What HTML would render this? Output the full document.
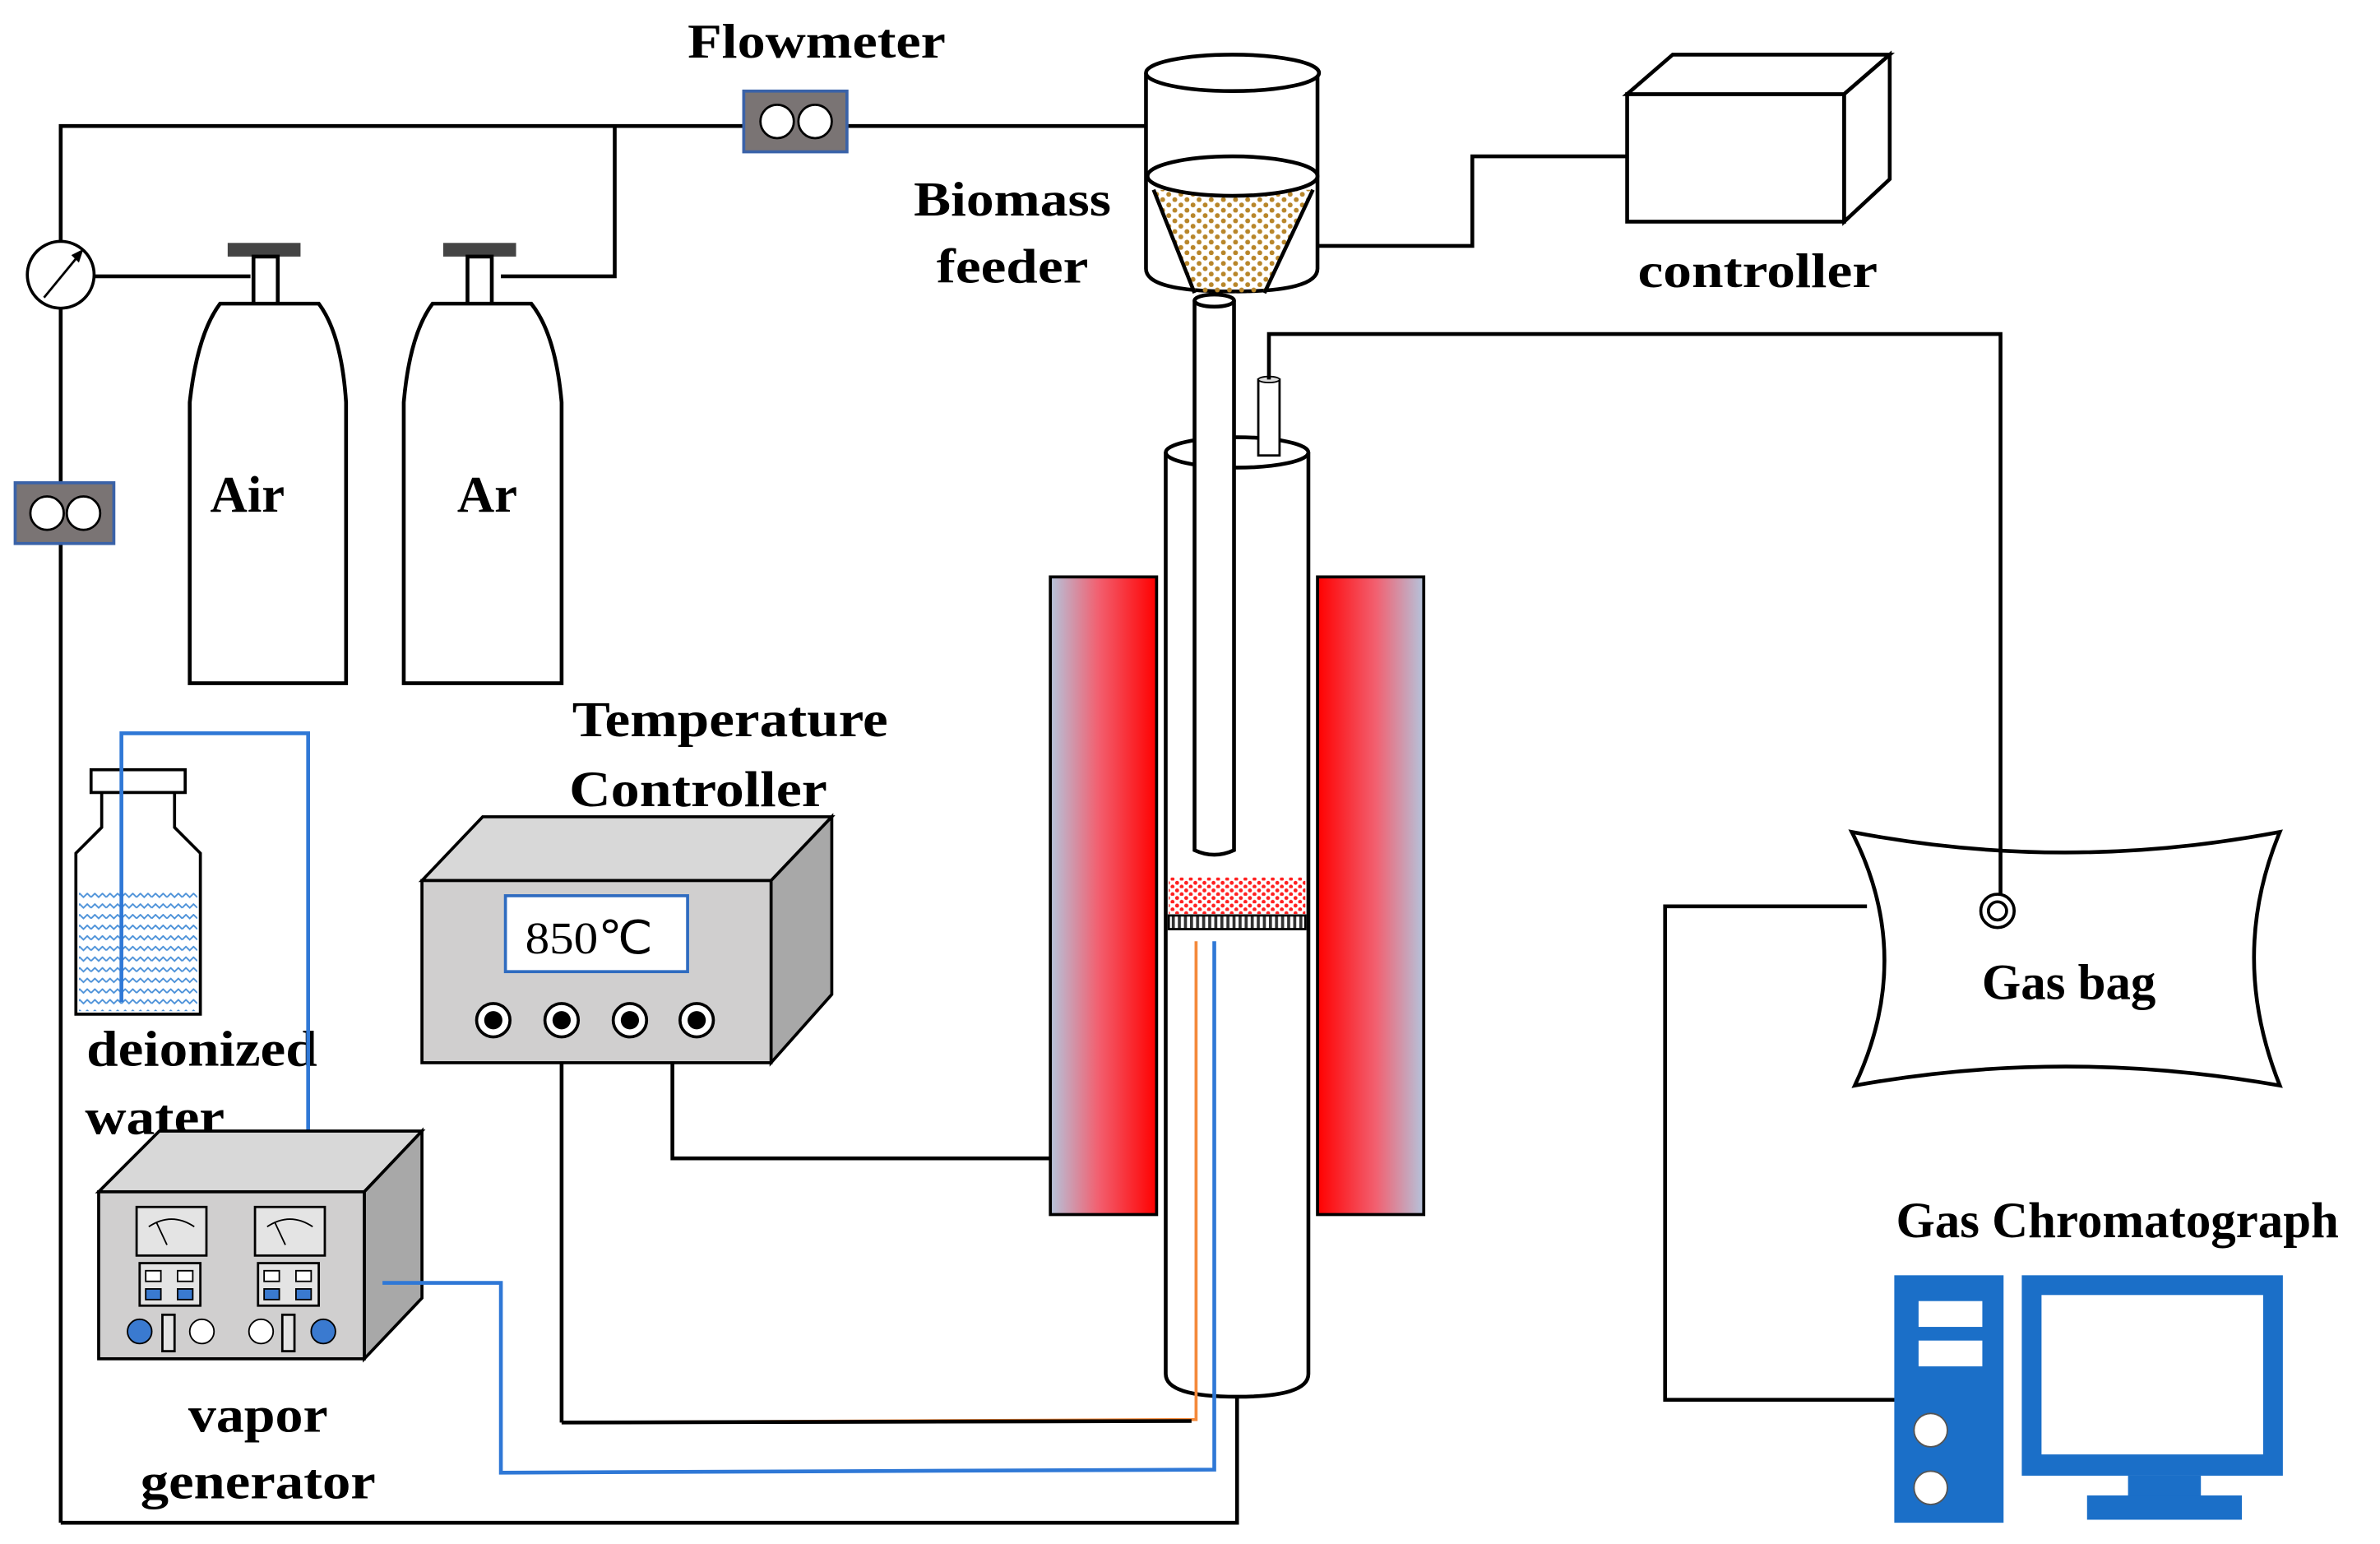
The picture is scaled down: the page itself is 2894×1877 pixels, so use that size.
<!DOCTYPE html>
<html><head><meta charset="utf-8"><style>
html,body{margin:0;padding:0;background:#fff;}
svg{display:block;}
text{font-family:"Liberation Serif",serif;font-weight:bold;fill:#000;}
</style></head><body>
<svg width="2894" height="1877" viewBox="0 0 1568 1017" preserveAspectRatio="none" xmlns="http://www.w3.org/2000/svg">
<defs>
<linearGradient id="hl" x1="0" x2="1" y1="0" y2="0"><stop offset="0" stop-color="#b4c4dc"/><stop offset="0.45" stop-color="#f26070"/><stop offset="1" stop-color="#ff0000"/></linearGradient>
<linearGradient id="hr" x1="0" x2="1" y1="0" y2="0"><stop offset="0" stop-color="#ff0000"/><stop offset="0.55" stop-color="#f26070"/><stop offset="1" stop-color="#b4c4dc"/></linearGradient>
<pattern id="bio" width="8" height="7" patternUnits="userSpaceOnUse"><circle cx="2" cy="2" r="1.6" fill="#b8862a"/><circle cx="6" cy="5.5" r="1.6" fill="#b8862a"/></pattern>
<pattern id="red" width="6" height="5" patternUnits="userSpaceOnUse"><circle cx="1.5" cy="1.5" r="1.3" fill="#ff2020"/><circle cx="4.5" cy="4" r="1.3" fill="#ff2020"/></pattern>
<pattern id="wave" width="10" height="7" patternUnits="userSpaceOnUse"><path d="M0 3 L2.5 0.5 L5 3 L7.5 0.5 L10 3" fill="none" stroke="#4a90d8" stroke-width="1"/></pattern>
<pattern id="mesh" width="4" height="10" patternUnits="userSpaceOnUse"><rect width="2" height="10" fill="#333"/></pattern>
</defs>
<g fill="none" stroke="#000" stroke-width="2.5">
<polyline points="40,1003 40,83 755,83"/>
<polyline points="405,83 405,182 330,182"/>
<line x1="62" y1="182" x2="165" y2="182"/>
<polyline points="815,920 815,1003 40,1003"/>
</g>
<circle cx="40" cy="181" r="22" fill="#fff" stroke="#000" stroke-width="2"/>
<line x1="29" y1="196" x2="52" y2="168" stroke="#000" stroke-width="1.5"/>
<polygon points="55,164 47,168 52,173" fill="#000"/>
<rect x="490" y="60" width="68" height="40" fill="#7a7474" stroke="#3a62a8" stroke-width="2"/>
<circle cx="512" cy="80" r="11" fill="#fff" stroke="#000" stroke-width="1.5"/><circle cx="537" cy="80" r="11" fill="#fff" stroke="#000" stroke-width="1.5"/>
<rect x="10" y="318" width="65" height="40" fill="#7a7474" stroke="#3a62a8" stroke-width="2"/>
<circle cx="31" cy="338" r="11" fill="#fff" stroke="#000" stroke-width="1.5"/><circle cx="55" cy="338" r="11" fill="#fff" stroke="#000" stroke-width="1.5"/>
<g stroke="#000" stroke-width="2.5" fill="#fff">
<rect x="150" y="160" width="48" height="9" fill="#444" stroke="none"/>
<rect x="167" y="169" width="16" height="32"/>
<path d="M125,450 L125,265 Q130,220 145,200 L210,200 Q225,220 228,265 L228,450 Z"/>
<rect x="292" y="160" width="48" height="9" fill="#444" stroke="none"/>
<rect x="308" y="169" width="16" height="32"/>
<path d="M266,450 L266,265 Q270,220 285,200 L350,200 Q366,220 370,265 L370,450 Z"/>
</g>
<text x="163" y="337" font-size="34" text-anchor="middle">Air</text>
<text x="321" y="337" font-size="34" text-anchor="middle">Ar</text>
<text x="538" y="38" font-size="32" text-anchor="middle" textLength="170" lengthAdjust="spacingAndGlyphs">Flowmeter</text>
<text x="667" y="142" font-size="32" text-anchor="middle" textLength="130" lengthAdjust="spacingAndGlyphs">Biomass</text>
<text x="667" y="186" font-size="32" text-anchor="middle" textLength="100" lengthAdjust="spacingAndGlyphs">feeder</text>
<text x="1158" y="189" font-size="32" text-anchor="middle" textLength="158" lengthAdjust="spacingAndGlyphs">controller</text>
<g stroke="#000" stroke-width="2.5" fill="#fff">
<path d="M755,48 L755,177 Q755,192 812,192 Q868,192 868,177 L868,48"/>
<ellipse cx="812" cy="48" rx="57" ry="12"/>
<path d="M760,125 L787,193 L833,193 L865,125 Z" fill="url(#bio)" stroke="none"/>
<line x1="760" y1="125" x2="787" y2="193"/><line x1="865" y1="125" x2="833" y2="193"/>
<ellipse cx="812" cy="116" rx="56" ry="13"/>
</g>
<g stroke="#000" stroke-width="2.5" fill="#fff">
<rect x="1072" y="62" width="143" height="84"/>
<polygon points="1072,62 1102,36 1245,36 1215,62"/>
<polygon points="1215,62 1245,36 1245,118 1215,146"/>
</g>
<polyline points="868,162 970,162 970,103 1072,103" fill="none" stroke="#000" stroke-width="2.5"/>
<g stroke="#000" stroke-width="2.5" fill="#fff">
<path d="M768,298 L768,905 Q768,920 815,920 Q862,920 862,905 L862,298"/>
<ellipse cx="815" cy="298" rx="47" ry="10"/>
</g>
<rect x="770" y="578" width="90" height="24" fill="url(#red)"/>
<rect x="770" y="603" width="90" height="9" fill="url(#mesh)" stroke="#000" stroke-width="1.5"/>
<g stroke="#000" stroke-width="2.5" fill="#fff">
<path d="M787,198 L787,560 Q800,566 813,560 L813,198"/>
<ellipse cx="800" cy="198" rx="13" ry="4"/>
</g>
<rect x="829" y="250" width="14" height="50" fill="#fff" stroke="#000" stroke-width="1.5"/>
<ellipse cx="836" cy="250" rx="7" ry="2" fill="#ddd" stroke="#000" stroke-width="1"/>
<rect x="692" y="380" width="70" height="420" fill="url(#hl)" stroke="#000" stroke-width="2"/>
<rect x="868" y="380" width="70" height="420" fill="url(#hr)" stroke="#000" stroke-width="2"/>
<polyline points="788,620 788,935 370,937" fill="none" stroke="#f4893a" stroke-width="2"/>
<line x1="370" y1="937" x2="785" y2="936" stroke="#000" stroke-width="2.5"/>
<line x1="370" y1="700" x2="370" y2="937" stroke="#000" stroke-width="2.5"/>
<polyline points="443,700 443,763 692,763" fill="none" stroke="#000" stroke-width="2.5"/>
<text x="481" y="485" font-size="33" text-anchor="middle" textLength="208" lengthAdjust="spacingAndGlyphs">Temperature</text>
<text x="460" y="531" font-size="33" text-anchor="middle" textLength="170" lengthAdjust="spacingAndGlyphs">Controller</text>
<g stroke="#000" stroke-width="2">
<polygon points="278,580 318,538 548,538 508,580" fill="#d8d8d8"/>
<polygon points="508,580 548,538 548,655 508,700" fill="#a8a8a8"/>
<rect x="278" y="580" width="230" height="120" fill="#d0cfcf"/>
</g>
<rect x="333" y="590" width="120" height="50" fill="#fff" stroke="#2f6cc0" stroke-width="2"/>
<text x="388" y="628" font-size="30" text-anchor="middle" style="font-weight:normal" textLength="84" lengthAdjust="spacingAndGlyphs">850℃</text>
<g fill="#fff" stroke="#000" stroke-width="2">
<circle cx="325" cy="672" r="11"/><circle cx="370" cy="672" r="11"/><circle cx="415" cy="672" r="11"/><circle cx="459" cy="672" r="11"/>
</g>
<g fill="#000"><circle cx="325" cy="672" r="6"/><circle cx="370" cy="672" r="6"/><circle cx="415" cy="672" r="6"/><circle cx="459" cy="672" r="6"/></g>
<path d="M67,522 L67,545 L50,562 L50,668 L132,668 L132,562 L115,545 L115,522" fill="#fff" stroke="#000" stroke-width="2"/>
<rect x="60" y="507" width="62" height="15" fill="#fff" stroke="#000" stroke-width="2"/>
<rect x="52" y="588" width="78" height="78" fill="url(#wave)"/>
<text x="133" y="702" font-size="33" text-anchor="middle" textLength="152" lengthAdjust="spacingAndGlyphs">deionized</text>
<text x="102" y="747" font-size="33" text-anchor="middle" textLength="92" lengthAdjust="spacingAndGlyphs">water</text>
<polyline points="80,660 80,483 203,483 203,747" fill="none" stroke="#2f78d6" stroke-width="2.5"/>
<g stroke="#000" stroke-width="2">
<polygon points="65,785 105,745 278,745 240,785" fill="#d8d8d8"/>
<polygon points="240,785 278,745 278,855 240,895" fill="#a8a8a8"/>
<rect x="65" y="785" width="175" height="110" fill="#d0cfcf"/>
</g>
<polyline points="800,620 800,968 330,970 330,845 252,845" fill="none" stroke="#2f78d6" stroke-width="2.5"/>
<g stroke="#000" stroke-width="1.5" fill="#e4e4e4">
<rect x="90" y="795" width="46" height="32"/><rect x="168" y="795" width="46" height="32"/>
<rect x="92" y="832" width="40" height="28"/><rect x="170" y="832" width="40" height="28"/>
<rect x="107" y="866" width="8" height="24"/><rect x="186" y="866" width="8" height="24"/>
</g>
<g stroke="#000" stroke-width="1" fill="none"><path d="M98,808 Q113,798 128,808"/><line x1="103" y1="805" x2="110" y2="820"/><path d="M176,808 Q191,798 206,808"/><line x1="181" y1="805" x2="188" y2="820"/></g>
<g fill="#3a7ad0" stroke="#000" stroke-width="1">
<rect x="96" y="837" width="10" height="7" fill="#fff"/><rect x="117" y="837" width="10" height="7" fill="#fff"/>
<rect x="96" y="849" width="10" height="7"/><rect x="117" y="849" width="10" height="7"/>
<rect x="174" y="837" width="10" height="7" fill="#fff"/><rect x="195" y="837" width="10" height="7" fill="#fff"/>
<rect x="174" y="849" width="10" height="7"/><rect x="195" y="849" width="10" height="7"/>
<circle cx="92" cy="877" r="8"/><circle cx="133" cy="877" r="8" fill="#fff"/>
<circle cx="172" cy="877" r="8" fill="#fff"/><circle cx="213" cy="877" r="8"/>
</g>
<text x="170" y="943" font-size="33" text-anchor="middle" textLength="92" lengthAdjust="spacingAndGlyphs">vapor</text>
<text x="170" y="987" font-size="33" text-anchor="middle" textLength="155" lengthAdjust="spacingAndGlyphs">generator</text>
<path d="M1220,548 Q1360,575 1502,548 Q1468,630 1502,715 Q1360,690 1222,715 Q1262,630 1220,548 Z" fill="#fff" stroke="#000" stroke-width="2.5"/>
<polyline points="836,250 836,220 1318,220 1318,592" fill="none" stroke="#000" stroke-width="2.5"/>
<circle cx="1316" cy="600" r="11" fill="#fff" stroke="#000" stroke-width="2"/><circle cx="1316" cy="600" r="6" fill="none" stroke="#000" stroke-width="2"/>
<text x="1363" y="658" font-size="33" text-anchor="middle">Gas bag</text>
<polyline points="1230,597 1097,597 1097,922 1250,922" fill="none" stroke="#000" stroke-width="2.5"/>
<text x="1395" y="815" font-size="33" text-anchor="middle">Gas Chromatograph</text>
<rect x="1248" y="840" width="72" height="163" fill="#1b6fc8"/>
<rect x="1264" y="857" width="42" height="17" fill="#fff"/><rect x="1264" y="883" width="42" height="17" fill="#fff"/>
<circle cx="1272" cy="942" r="11" fill="#fff" stroke="#555" stroke-width="1"/><circle cx="1272" cy="980" r="11" fill="#fff" stroke="#555" stroke-width="1"/>
<rect x="1332" y="840" width="172" height="132" fill="#1b6fc8"/>
<rect x="1345" y="853" width="146" height="105" fill="#fff"/>
<rect x="1402" y="972" width="48" height="14" fill="#1b6fc8"/>
<rect x="1375" y="985" width="102" height="16" fill="#1b6fc8"/>
</svg>
</body></html>
